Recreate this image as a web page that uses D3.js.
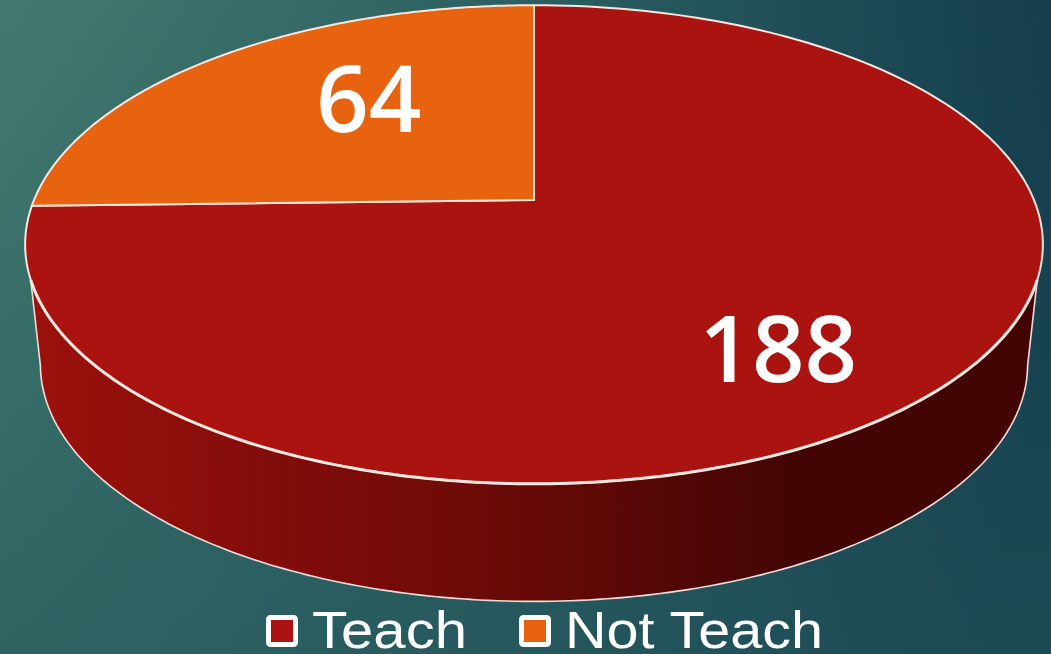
<!DOCTYPE html>
<html>
<head>
<meta charset="utf-8">
<script src="https://cdn.jsdelivr.net/npm/d3@7"></script>
<style>
html, body { margin: 0; padding: 0; background: #24565c; overflow: hidden; }
svg { display: block; filter: blur(0.5px); }
</style>
</head>
<body>
<script>
// Data
var categories = ["Teach", "Not Teach"];
var values = [188, 64];
var colors = ["#ab1310", "#e8630f"];

// Settings
var w = 1051;
var h = 654;
var cx = 534;   // pie centre on the picture
var cy = 200;
var rx = 500;   // flat radius across
var ry = 231;   // flat radius towards the viewer
var tilt = 0.186;  // perspective strength

var svg = d3.select("body")
	.append("svg")
	.attr("width", w)
	.attr("height", h);

var defs = svg.append("defs");

var bg = defs.append("linearGradient")
	.attr("id", "bg")
	.attr("gradientUnits", "userSpaceOnUse")
	.attr("x1", 0).attr("y1", 100)
	.attr("x2", 1051).attr("y2", 300);
bg.append("stop").attr("offset", "0%").attr("stop-color", "#41796e");
bg.append("stop").attr("offset", "50%").attr("stop-color", "#2a5d60");
bg.append("stop").attr("offset", "100%").attr("stop-color", "#123a4c");

// pulls both bottom corners towards the middle tone
var bgFade = defs.append("linearGradient")
	.attr("id", "bgFade")
	.attr("x1", 0).attr("y1", 0)
	.attr("x2", 0).attr("y2", 1);
bgFade.append("stop").attr("offset", "0%").attr("stop-color", "#25575c").attr("stop-opacity", 0);
bgFade.append("stop").attr("offset", "100%").attr("stop-color", "#25575c").attr("stop-opacity", 0.55);

var wallFill = defs.append("linearGradient")
	.attr("id", "wall")
	.attr("gradientUnits", "userSpaceOnUse")
	.attr("x1", 30).attr("y1", 0)
	.attr("x2", 1040).attr("y2", 0);
wallFill.append("stop").attr("offset", "0%").attr("stop-color", "#9c110d");
wallFill.append("stop").attr("offset", "30%").attr("stop-color", "#7c0c0a");
wallFill.append("stop").attr("offset", "50%").attr("stop-color", "#660a07");
wallFill.append("stop").attr("offset", "75%").attr("stop-color", "#430504");
wallFill.append("stop").attr("offset", "100%").attr("stop-color", "#430504");

svg.append("rect")
	.attr("width", w)
	.attr("height", h)
	.attr("fill", "url(#bg)");

svg.append("rect")
	.attr("width", w)
	.attr("height", h)
	.attr("fill", "url(#bgFade)");

// Flat pie angle -> point on the tilted disc
function project(a, r) {
	var u = Math.sin(a) * r;
	var v = -Math.cos(a) * r;
	var k = 1 - tilt * v;
	return [cx + rx * u / k, cy + ry * v / k];
}

// Same rim, pushed down for the bottom of the wall
function projectBottom(a) {
	var p = project(a, 1);
	return [cx + (p[0] - cx) * 0.97, 245 + (p[1] - 245) * 0.99 + 120];
}

var pie = d3.pie().sort(null).startAngle(0).endAngle(2 * Math.PI);
var slices = pie(values);

var line = d3.line();

function arcAngles(a0, a1) {
	return d3.range(0, 181).map(function(i) {
		return a0 + (a1 - a0) * i / 180;
	});
}

function rim(a) { return project(a, 1); }

// Wall
var rad = Math.PI / 180;
var wallPts = arcAngles(109 * rad, 251 * rad).map(rim)
	.concat(arcAngles(259 * rad, 101 * rad).map(projectBottom));

svg.append("path")
	.attr("d", line(wallPts) + "Z")
	.attr("fill", "url(#wall)")
	.attr("stroke", "#f2dcd8")
	.attr("stroke-width", 1.6)
	.attr("stroke-linejoin", "round");

// Top of the pie
svg.selectAll("path.slice")
	.data(slices)
	.enter()
	.append("path")
	.attr("class", "slice")
	.attr("d", function(d) {
		var pts = arcAngles(d.startAngle, d.endAngle).map(rim);
		pts.unshift([cx, cy]);
		return line(pts) + "Z";
	})
	.attr("fill", function(d, i) { return colors[i]; })
	.attr("stroke", "#f6e6e0")
	.attr("stroke-width", 2)
	.attr("stroke-linejoin", "round");

// front edge of the top is drawn heavier
svg.append("path")
	.attr("d", line(arcAngles(109 * rad, 251 * rad).map(rim)))
	.attr("fill", "none")
	.attr("stroke", "#f6e6e0")
	.attr("stroke-width", 3);

// Value labels
svg.selectAll("text.value")
	.data(slices)
	.enter()
	.append("text")
	.attr("class", "value")
	.attr("transform", function(d, i) {
		var mid = (d.startAngle + d.endAngle) / 2 + 0.15;
		var p = project(mid, i == 0 ? 0.72 : 0.6);
		return "translate(" + (p[0] + 1) + "," + p[1] + ")";
	})
	.attr("text-anchor", "middle")
	.attr("dy", "0.36em")
	.attr("font-family", "'Open Sans', sans-serif")
	.attr("font-weight", 600)
	.attr("font-size", 92)
	.attr("fill", "#ffffff")
	.text(function(d) { return d.value; });

// Legend
var legendX = d3.scaleOrdinal().domain(categories).range([266, 519]);
var legendWidth = d3.scaleOrdinal().domain(categories).range([155, 258]);

var legend = svg.selectAll("g.legend")
	.data(categories)
	.enter()
	.append("g")
	.attr("class", "legend")
	.attr("transform", function(d) { return "translate(" + legendX(d) + ",615)"; });

legend.append("rect")
	.attr("x", 2.5)
	.attr("y", 2.5)
	.attr("width", 27)
	.attr("height", 27)
	.attr("rx", 2)
	.attr("fill", function(d, i) { return colors[i]; })
	.attr("stroke", "#ffffff")
	.attr("stroke-width", 5);

legend.append("text")
	.attr("x", 46)
	.attr("y", 33)
	.attr("font-family", "'Liberation Sans', Arial, sans-serif")
	.attr("font-size", 52)
	.attr("textLength", function(d) { return legendWidth(d); })
	.attr("lengthAdjust", "spacingAndGlyphs")
	.attr("fill", "#ffffff")
	.text(function(d) { return d; });
</script>
</body>
</html>
